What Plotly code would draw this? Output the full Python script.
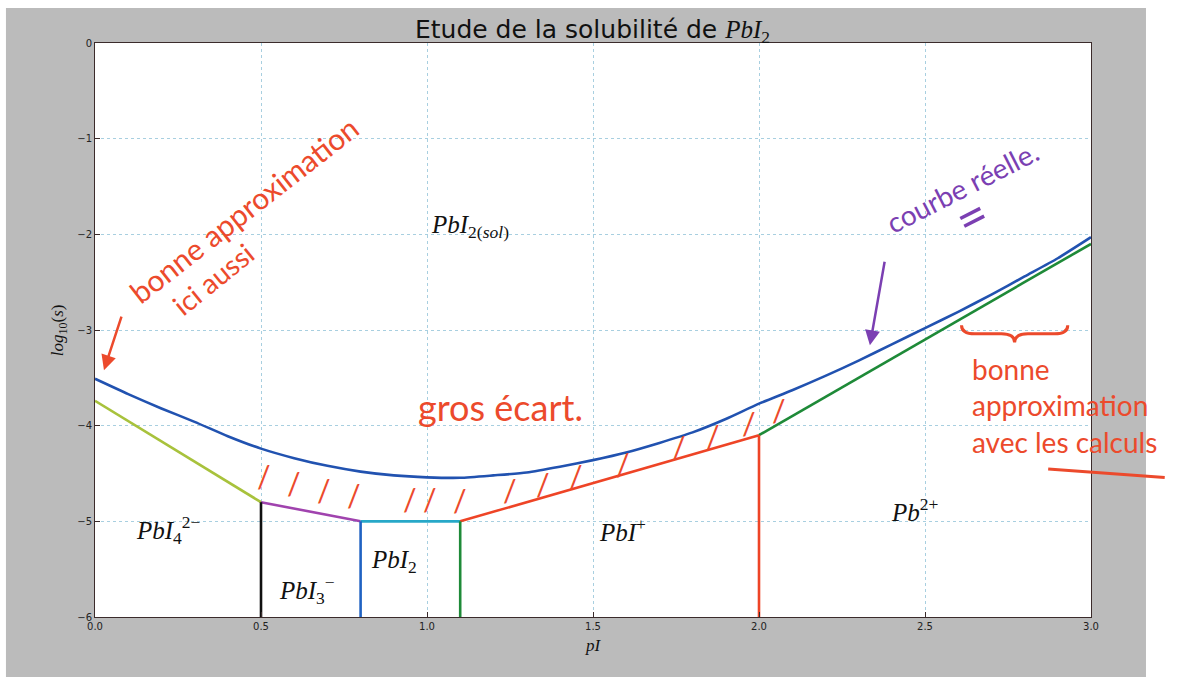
import numpy as np
import plotly.graph_objects as go

# ---------------- data ----------------
pI = [0.0, 0.1, 0.2, 0.3, 0.4, 0.5, 0.6, 0.7, 0.8, 0.9, 1.0, 1.1, 1.2, 1.3, 1.4, 1.5,
      1.6, 1.7, 1.8, 1.9, 2.0, 2.1, 2.2, 2.3, 2.4, 2.5, 2.6, 2.7, 2.8, 2.9, 3.0]
log_s_real = [-3.51, -3.67, -3.82, -3.96, -4.11, -4.24, -4.34, -4.42, -4.48, -4.52, -4.54,
              -4.545, -4.52, -4.49, -4.43, -4.36, -4.28, -4.18, -4.07, -3.93, -3.77,
              -3.63, -3.48, -3.32, -3.15, -2.98, -2.81, -2.63, -2.44, -2.25, -2.03]

# approximation segments (domain boundaries)
seg_PbI4_x = [0.0, 0.5];  seg_PbI4_y = [-3.74, -4.80]
seg_PbI3_x = [0.5, 0.8];  seg_PbI3_y = [-4.80, -5.00]
seg_PbI2_x = [0.8, 1.1];  seg_PbI2_y = [-5.00, -5.00]
seg_PbI_x = [1.1, 2.0];   seg_PbI_y = [-5.00, -4.10]
seg_Pb_x = [2.0, 3.0];    seg_Pb_y = [-4.10, -2.10]
boundaries_x = [0.5, 0.8, 1.1, 2.0]
boundaries_top = [-4.80, -5.00, -5.00, -4.10]

xticks = [0.0, 0.5, 1.0, 1.5, 2.0, 2.5, 3.0]
yticks = [0, -1, -2, -3, -4, -5, -6]

# hatch marks (pI positions) in the "gros écart" zone
hatch_x = [0.51, 0.60, 0.69, 0.78, 0.95, 1.01, 1.10, 1.25, 1.35, 1.45, 1.59, 1.76, 1.86, 1.97, 2.06]

# ---------------- styles ----------------
C_BLUE = "#2152b0"
C_GREEN = "#1e8a38"
C_RED = "#ee4426"
C_CYAN = "#27a8c8"
C_MAG = "#a043ae"
C_YEL = "#a8c23c"
C_BLACK = "#111111"
C_VBLUE = "#2062c2"
HAND_RED = "#ec4a2c"
HAND_PURPLE = "#7b3fb2"
LW = 2.6

fig = go.Figure()

def seg(x, y, color):
    fig.add_trace(go.Scatter(x=x, y=y, mode="lines", line=dict(color=color, width=LW),
                             hoverinfo="skip", showlegend=False))

seg(seg_PbI4_x, seg_PbI4_y, C_YEL)
seg(seg_PbI3_x, seg_PbI3_y, C_MAG)
seg(seg_PbI2_x, seg_PbI2_y, C_CYAN)
seg(seg_PbI_x, seg_PbI_y, C_RED)
seg(seg_Pb_x, seg_Pb_y, C_GREEN)
vcolors = [C_BLACK, C_VBLUE, C_GREEN, C_RED]
for bx, by, c in zip(boundaries_x, boundaries_top, vcolors):
    seg([bx, bx], [by, -6], c)
fig.add_trace(go.Scatter(x=pI, y=log_s_real, mode="lines",
                         line=dict(color=C_BLUE, width=LW, shape="spline", smoothing=0.6),
                         showlegend=False))

# ---------------- background (grey frame + white plot area) ----------------
fig.add_shape(type="rect", xref="paper", yref="paper", x0=-0.0894, x1=1.0552, y0=-0.1045, y1=1.061,
              fillcolor="#bbbbbb", line=dict(width=0), layer="below")
fig.add_shape(type="rect", xref="paper", yref="paper", x0=0, x1=1, y0=0, y1=1,
              fillcolor="white", line=dict(width=0), layer="below")

SERIF = "Liberation Serif"
ann = []
def label(txt, x, y, size=25):
    ann.append(dict(x=x, y=y, text=txt, showarrow=False, xref="x", yref="y",
                    font=dict(family=SERIF, size=size, color="#111")))

label("<i>PbI</i><sub>2(<i>sol</i>)</sub>", 1.13, -1.92)
label("<i>PbI</i><sub>4</sub><sup>2−</sup>", 0.22, -5.09)
label("<i>PbI</i><sub>3</sub><sup>−</sup>", 0.64, -5.72)
label("<i>PbI</i><sub>2</sub>", 0.90, -5.42)
label("<i>PbI</i><sup>+</sup>", 1.59, -5.09)
label("<i>Pb</i><sup>2+</sup>", 2.47, -4.88)

# axis titles
ann.append(dict(x=-0.036, y=0.5, xref="paper", yref="paper", xanchor="center", yanchor="middle",
                text="<i>log</i><sub>10</sub>(<i>s</i>)", textangle=-90, showarrow=False,
                font=dict(family=SERIF, size=17, color="#111")))
ann.append(dict(x=0.5, y=-0.05, xref="paper", yref="paper", xanchor="center", yanchor="middle",
                text="<i>pI</i>", showarrow=False, font=dict(family=SERIF, size=17, color="#111")))

# ---------------- handwritten annotations ----------------
HAND = "Lato"
ann.append(dict(x=0.45, y=-1.74, text="bonne approximation", textangle=-38, showarrow=False,
                font=dict(family=HAND, size=30, color=HAND_RED)))
ann.append(dict(x=0.355, y=-2.47, text="ici aussi", textangle=-39, showarrow=False,
                font=dict(family=HAND, size=28, color=HAND_RED)))
ann.append(dict(x=0.027, y=-3.42, text="", showarrow=True, arrowhead=2, arrowsize=1.2,
                arrowwidth=2.5, arrowcolor=HAND_RED, ax=18, ay=-55))
ann.append(dict(x=1.22, y=-3.80, text="gros écart.", showarrow=False,
                font=dict(family=HAND, size=36, color=HAND_RED)))
ann.append(dict(x=2.61, y=-1.50, text="courbe réelle.", textangle=-27, showarrow=False,
                font=dict(family=HAND, size=28, color=HAND_PURPLE)))
ann.append(dict(x=2.64, y=-1.80, text="=", textangle=-27, showarrow=False,
                font=dict(family=HAND, size=52, color=HAND_PURPLE)))
ann.append(dict(x=2.334, y=-3.16, text="", showarrow=True, arrowhead=2, arrowsize=1.2,
                arrowwidth=2.5, arrowcolor=HAND_PURPLE, ax=15, ay=-85))
ann.append(dict(x=2.636, y=-3.79, text="bonne<br>approximation<br>avec les calculs", align="left",
                xanchor="left", showarrow=False,
                font=dict(family=HAND, size=28, color=HAND_RED)))

# curly brace over the right-hand region
bx0, bx1, bytop, bytip = 2.61, 2.93, -2.95, -3.13
bxc = (bx0 + bx1) / 2
bymid = (bytop + bytip) / 2
brace = (f"M {bx0},{bytop} Q {bx0},{bymid} {bx0 + 0.04},{bymid} L {bxc - 0.04},{bymid} "
         f"Q {bxc},{bymid} {bxc},{bytip} Q {bxc},{bymid} {bxc + 0.04},{bymid} "
         f"L {bx1 - 0.04},{bymid} Q {bx1},{bymid} {bx1},{bytop}")
fig.add_shape(type="path", path=brace, xref="x", yref="y", line=dict(color=HAND_RED, width=3))

# hatch marks between the real curve and the approximation
low_x = seg_PbI3_x + seg_PbI2_x[1:] + seg_PbI_x[1:] + seg_Pb_x[1:]
low_y = seg_PbI3_y + seg_PbI2_y[1:] + seg_PbI_y[1:] + seg_Pb_y[1:]
for hx in hatch_x:
    yu = float(np.interp(hx, pI, log_s_real))
    yl = float(np.interp(hx, low_x, low_y))
    ann.append(dict(x=hx, y=(yu + yl) / 2, text="/", showarrow=False,
                    font=dict(family=HAND, size=30, color=HAND_RED)))

# underline of "les calculs"
fig.add_shape(type="line", xref="paper", yref="paper", x0=0.957, y0=0.258, x1=1.074, y1=0.243,
              line=dict(color=HAND_RED, width=3))

axis_common = dict(showline=True, linecolor="#3b2b2b", linewidth=1, mirror=True,
                   ticks="inside", ticklen=5, tickcolor="#3b2b2b",
                   showgrid=True, gridcolor="#a8cfe0", griddash="dot", gridwidth=1,
                   zeroline=False, tickfont=dict(family="DejaVu Sans", size=10, color="#222"))

fig.update_layout(
    width=1185, height=677,
    margin=dict(l=95, r=94, t=43, b=60),
    paper_bgcolor="white", plot_bgcolor="rgba(0,0,0,0)",
    title=dict(text="Etude de la solubilité de <span style='font-family:Liberation Serif'><i>PbI</i><sub>2</sub></span>",
               x=0.5, xanchor="center", y=1 - 29 / 677, yanchor="middle",
               font=dict(family="DejaVu Sans", size=25, color="#111")),
    xaxis=dict(range=[0, 3], tickvals=xticks, tickformat=".1f", **axis_common),
    yaxis=dict(range=[-6, 0], tickvals=yticks, **axis_common),
    annotations=ann,
    showlegend=False,
)

fig.write_html("out.html", config={"displayModeBar": False},
               post_script="document.body.style.margin='0';")
